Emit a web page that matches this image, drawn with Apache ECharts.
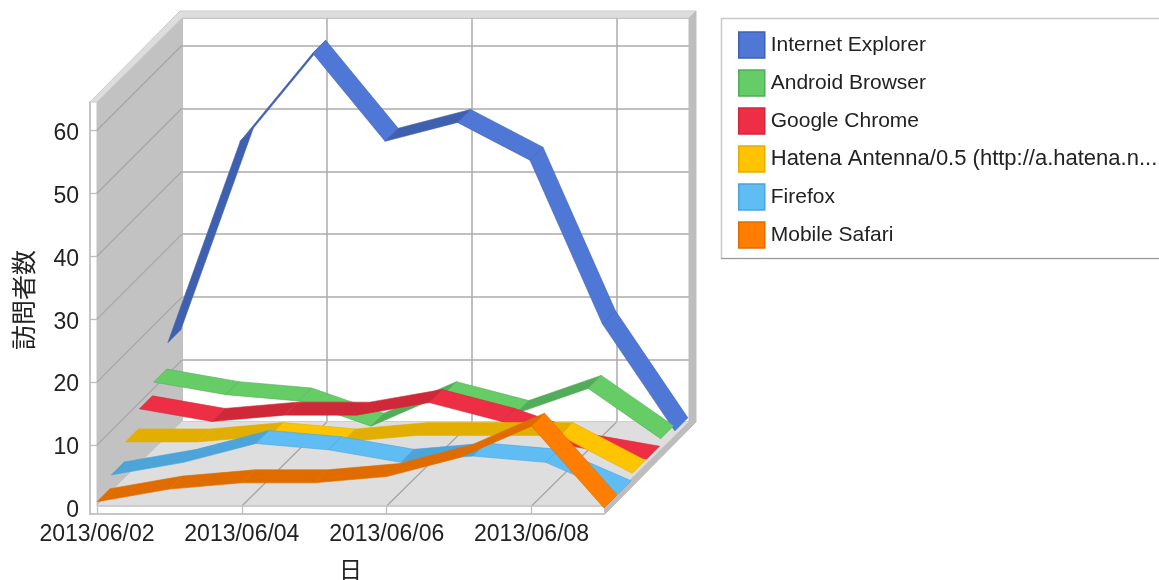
<!DOCTYPE html>
<html>
<head>
<meta charset="utf-8">
<style>
  html, body { margin: 0; padding: 0; background: #fff; }
  #main { width: 1159px; height: 580px; }
</style>
<script src="https://cdn.jsdelivr.net/npm/echarts@6/dist/echarts.min.js"></script>
</head>
<body>
<div id="main"></div>
<script>
var dates = ['2013/06/02', '2013/06/03', '2013/06/04', '2013/06/05', '2013/06/06', '2013/06/07', '2013/06/08', '2013/06/09'];
var yTicks = [0, 10, 20, 30, 40, 50, 60];

var ieValues = [15, 47, 61, 47, 50, 44, 18, 1];
var androidValues = [11, 9, 8, 4, 9, 6, 10, 2];
var chromeValues = [9, 7, 8, 8, 10, 7, 3, 1];
var hatenaValues = [6, 6, 7, 6, 7, 7, 7, 1];
var firefoxValues = [3, 5, 8, 7, 5, 6, 5, 0];
var safariValues = [1, 3, 4, 4, 5, 8, 13, 0];

var seriesNames = ['Internet Explorer', 'Android Browser', 'Google Chrome', 'Hatena Antenna/0.5 (http://a.hatena.n...', 'Firefox', 'Mobile Safari'];
var seriesValues = [ieValues, androidValues, chromeValues, hatenaValues, firefoxValues, safariValues];
var lightColors = ['#4f77d6', '#66cc66', '#ee2e45', '#ffc400', '#60bdf4', '#ff7d00'];
var darkColors = ['#3e60ae', '#52ad5a', '#cf2838', '#e2ae00', '#4ca4d8', '#e06c00'];

// depth of the fake 3d box, in pixels
var depthX = 85;
var depthY = 85;
var slotX = depthX / 6;
var slotY = depthY / 6;
var ribbonX = 13;
var ribbonY = 13;

var yMax = 64.5;
var lastIndex = dates.length - 1;

function drawBox(params, api) {
    var origin = api.coord([0, 0]);
    var topLeft = api.coord([0, yMax]);
    var right = api.coord([lastIndex, 0]);
    var left = origin[0];
    var floorY = origin[1] - 2;
    var top = topLeft[1];
    var backLeft = left + depthX;
    var backRight = right[0] + depthX;
    var backTop = top - depthY + 1;
    var backFloor = floorY - depthY + 1;
    var children = [];

    function poly(points, fill, stroke) {
        children.push({
            type: 'polygon',
            shape: { points: points },
            style: { fill: fill, stroke: stroke || fill, lineWidth: 1 }
        });
    }
    function line(x1, y1, x2, y2, color, width) {
        children.push({
            type: 'line',
            shape: { x1: x1, y1: y1, x2: x2, y2: y2 },
            style: { stroke: color, lineWidth: width || 1.3 }
        });
    }

    // side wall and floor
    poly([[left, top], [backLeft, backTop], [backLeft, backFloor], [left, floorY]], '#c2c2c2');
    poly([[left, floorY], [backLeft, backFloor], [backRight, backFloor], [right[0], floorY]], '#dedede');

    yTicks.forEach(function (v) {
        var p = api.coord([0, v]);
        if (v > 0) line(left, p[1], backLeft, p[1] - depthY, '#a6a6a6');
    });
    for (var i = 2; i < lastIndex; i += 2) {
        var p = api.coord([i, 0]);
        line(p[0], floorY, p[0] + depthX, backFloor, '#a6a6a6');
    }

    // top ledge and outer edge of the box
    poly([[left - 7, top], [backLeft - 2, backTop - 7], [backRight + 7, backTop - 7], [backRight, backTop], [backLeft, backTop], [left, top]], '#dddddd', '#cccccc');
    poly([[backRight, backTop], [backRight + 7, backTop - 7], [backRight + 7, backFloor], [backRight, backFloor]], '#bdbdbd');
    poly([[right[0], floorY], [backRight, backFloor], [backRight + 7, backFloor], [right[0] + 1, floorY + 8]], '#bdbdbd');
    line(left, floorY, right[0], floorY, '#c4c4c4');
    // the two axis lines are set off from the plot, close the corner
    line(left - 7, origin[1] - 1, left - 7, origin[1] + 7, '#c6c6c6', 2);
    line(left - 8, origin[1] + 6, left + 1, origin[1] + 6, '#c6c6c6', 2);

    return { type: 'group', children: children };
}

function drawRibbon(slot, values, light, dark) {
    return function (params, api) {
        var i = params.dataIndex;
        if (i >= values.length - 1) return null;
        var a = api.coord([i, values[i]]);
        var b = api.coord([i + 1, values[i + 1]]);
        var ox = slot * slotX;
        var oy = slot * slotY;
        // underside is showing when the line goes up or stays level
        var fill = values[i + 1] >= values[i] ? dark : light;
        return {
            type: 'polygon',
            shape: {
                points: [
                    [a[0] + ox, a[1] - oy],
                    [b[0] + ox, b[1] - oy],
                    [b[0] + ox + ribbonX, b[1] - oy - ribbonY],
                    [a[0] + ox + ribbonX, a[1] - oy - ribbonY]
                ]
            },
            style: { fill: fill, stroke: dark, lineWidth: 0.6 }
        };
    };
}

var series = [{
    name: 'box',
    type: 'custom',
    xAxisIndex: 0,
    yAxisIndex: 0,
    silent: true,
    renderItem: drawBox,
    data: [[0, 0]]
}];

seriesNames.forEach(function (name, idx) {
    var slot = seriesNames.length - 1 - idx;
    series.push({
        name: name,
        type: 'custom',
        xAxisIndex: 0,
        yAxisIndex: 0,
        itemStyle: { color: lightColors[idx] },
        encode: { x: 0, y: 1 },
        renderItem: drawRibbon(slot, seriesValues[idx], lightColors[idx], darkColors[idx]),
        data: seriesValues[idx].map(function (v, i) { return [i, v]; })
    });
});

var option = {
    animation: false,
    backgroundColor: '#fff',
    textStyle: { fontFamily: '"Liberation Sans", Arial, sans-serif' },
    graphic: [
        { type: 'rect', z: 1, shape: { x: 721.5, y: 18.5, width: 500, height: 240 }, style: { fill: '#fff', stroke: '#c8c8c8', lineWidth: 1.5 } },
        { type: 'line', z: 1, shape: { x1: 721, y1: 258.5, x2: 1159, y2: 258.5 }, style: { stroke: '#9a9a9a', lineWidth: 1 } }
    ],
    legend: {
        left: 738,
        top: 31,
        padding: 0,
        orient: 'vertical',
        itemWidth: 26,
        itemHeight: 26,
        itemGap: 10,
        selectedMode: false,
        textStyle: { fontSize: 21, color: '#222', padding: [2, 0, 0, 1], lineHeight: 26 },
        data: seriesNames.map(function (name, idx) {
            var item = {
                name: name,
                icon: 'rect',
                itemStyle: { color: lightColors[idx], borderColor: darkColors[idx], borderWidth: 1.5 }
            };
            // this one runs wider in the picture, right up to the window edge
            if (name.length > 30) item.textStyle = { fontSize: 22 };
            return item;
        })
    },
    grid: [
        { left: 97, top: 102, width: 507, height: 406, outerBoundsMode: 'none' },
        { left: 182, top: 18, width: 507, height: 404, outerBoundsMode: 'none' }
    ],
    xAxis: [{
        type: 'category',
        gridIndex: 0,
        data: dates,
        boundaryGap: false,
        offset: 6,
        name: '日',
        nameLocation: 'middle',
        nameGap: 44,
        nameTextStyle: { fontSize: 23, color: '#222', fontFamily: '"Noto Sans CJK JP"' },
        axisLine: { onZero: false, lineStyle: { color: '#c6c6c6', width: 2 } },
        axisTick: { interval: 1, inside: true, length: 8, lineStyle: { color: '#bdbdbd', width: 1.3 } },
        axisLabel: { interval: 1, margin: 9, fontSize: 23, color: '#222' },
        splitLine: { show: false }
    }, {
        type: 'category',
        gridIndex: 1,
        data: dates,
        boundaryGap: false,
        axisLine: { show: false },
        axisTick: { show: false },
        axisLabel: { show: false },
        splitLine: { show: true, interval: 1, lineStyle: { color: '#ababab', width: 1.5 } }
    }],
    yAxis: [{
        type: 'value',
        gridIndex: 0,
        min: 0,
        max: yMax,
        interval: 10,
        offset: 7,
        name: '訪問者数',
        nameLocation: 'middle',
        nameGap: 54,
        nameTextStyle: { fontSize: 25, color: '#222', fontFamily: '"Noto Sans CJK JP"', padding: [0, 0, 0, 10] },
        axisLine: { show: true, onZero: false, lineStyle: { color: '#c6c6c6', width: 2 } },
        axisTick: { show: true, inside: true, length: 7, customValues: yTicks.slice(1), lineStyle: { color: '#bdbdbd', width: 1.3 } },
        axisLabel: {
            customValues: yTicks,
            margin: 11,
            formatter: '{n|{value}}',
            rich: { n: { fontSize: 23, color: '#222', padding: [6, 0, 0, 0] } }
        },
        splitLine: { show: false }
    }, {
        type: 'value',
        gridIndex: 1,
        min: 0,
        max: yMax,
        interval: 10,
        axisLine: { show: false },
        axisTick: { show: false },
        axisLabel: { show: false },
        splitLine: { show: true, lineStyle: { color: '#ababab', width: 1.5 } }
    }],
    series: series
};

var myChart = echarts.init(document.getElementById('main'), null, { renderer: 'canvas' });
myChart.setOption(option);
</script>
</body>
</html>
